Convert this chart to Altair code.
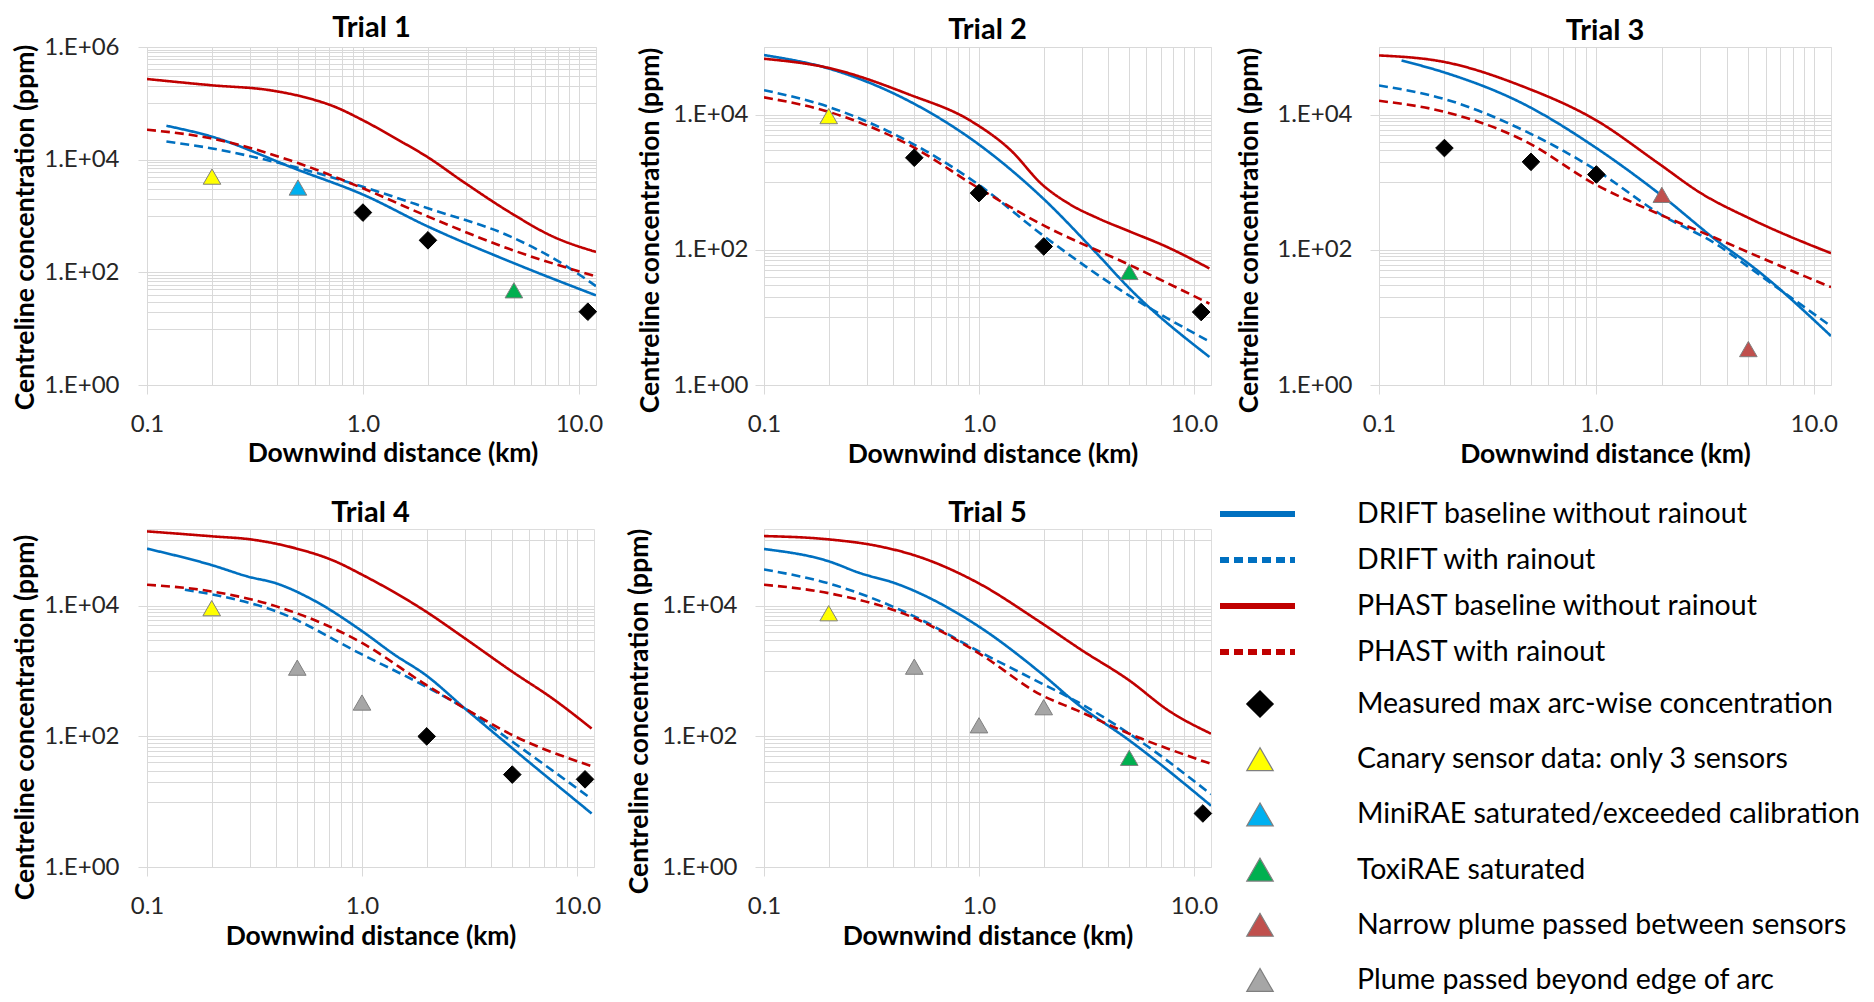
import altair as alt
import pandas as pd

FONT = "Lato"

SERIES = ["DRIFT baseline without rainout", "DRIFT with rainout",
          "PHAST baseline without rainout", "PHAST with rainout"]
SERIES_COLORS = ["#0070C0", "#0070C0", "#C00000", "#C00000"]
MARKERS = ["Measured max arc-wise concentration", "Canary sensor data: only 3 sensors",
           "MiniRAE saturated/exceeded calibration", "ToxiRAE saturated",
           "Narrow plume passed between sensors", "Plume passed beyond edge of arc"]
MARKER_SHAPES = ["diamond", "triangle-up", "triangle-up", "triangle-up", "triangle-up", "triangle-up"]
MARKER_FILLS = ["#000000", "#FFFF00", "#00B0F0", "#00B050", "#C0504D", "#A6A6A6"]
MARKER_STROKES = ["#000000", "#7F7F7F", "#7F7F7F", "#7F7F7F", "#7F7F7F", "#7F7F7F"]

TITLES = ["Trial 1", "Trial 2", "Trial 3", "Trial 4", "Trial 5"]
X_LABEL = "Downwind distance (km)"
Y_LABEL = "Centreline concentration (ppm)"
Y_MAX = [1e6, 1e5, 1e5, 1.5e5, 1.5e5]

# ---------------- Trial 1 ----------------
T1_DRIFT_BASE_X = [0.123, 0.197, 0.5, 1.0, 2.0, 4.9, 12]
T1_DRIFT_BASE_Y = [4e4, 2.6e4, 6.6e3, 2.4e3, 650, 150, 39]
T1_DRIFT_RAIN_X = [0.123, 0.197, 0.41, 1.0, 2.0, 4.9, 8.2, 12]
T1_DRIFT_RAIN_Y = [2.1e4, 1.6e4, 8.7e3, 3.3e3, 1.37e3, 420, 150, 57]
T1_PHAST_BASE_X = [0.1, 0.197, 0.374, 0.53, 0.74, 1.0, 1.47, 2.0, 2.9, 4.9, 7.5, 12]
T1_PHAST_BASE_Y = [2.7e5, 2.1e5, 1.7e5, 1.3e5, 8.7e4, 5e4, 2.2e4, 1.1e4, 4.1e3, 1.1e3, 440, 230]
T1_PHAST_RAIN_X = [0.1, 0.197, 0.5, 1.0, 2.0, 4.9, 12]
T1_PHAST_RAIN_Y = [3.4e4, 2.4e4, 8.7e3, 3.1e3, 980, 250, 85]
T1_MEASURED_X = [1.0, 2.0, 11.0]
T1_MEASURED_Y = [1.15e3, 370, 20]
T1_CANARY_X = [0.2]
T1_CANARY_Y = [5e3]
T1_MINIRAE_X = [0.5]
T1_MINIRAE_Y = [3.2e3]
T1_TOXIRAE_X = [5.0]
T1_TOXIRAE_Y = [48]

# ---------------- Trial 2 ----------------
T2_DRIFT_BASE_X = [0.1, 0.2, 0.47, 1.0, 1.97, 3.57, 5.0, 11.8]
T2_DRIFT_BASE_Y = [7.6e4, 4.8e4, 1.6e4, 3.6e3, 590, 85, 27, 2.6]
T2_DRIFT_RAIN_X = [0.1, 0.2, 0.47, 1.0, 1.97, 5.0, 11.8]
T2_DRIFT_RAIN_Y = [2.3e4, 1.3e4, 4e3, 910, 166, 21, 4.4]
T2_PHAST_BASE_X = [0.1, 0.2, 0.47, 0.92, 1.4, 1.97, 2.65, 3.6, 5.0, 7.5, 11.8]
T2_PHAST_BASE_Y = [6.7e4, 4.9e4, 2e4, 8e3, 3.0e3, 920, 470, 290, 188, 110, 53]
T2_PHAST_RAIN_X = [0.1, 0.2, 0.47, 1.0, 1.97, 5.0, 11.8]
T2_PHAST_RAIN_Y = [1.8e4, 1.1e4, 3.6e3, 810, 235, 60, 16]
T2_MEASURED_X = [0.5, 1.0, 2.0, 10.8]
T2_MEASURED_Y = [2.3e3, 690, 112, 12]
T2_CANARY_X = [0.2]
T2_CANARY_Y = [9.5e3]
T2_TOXIRAE_X = [5.0]
T2_TOXIRAE_Y = [47]

# ---------------- Trial 3 ----------------
T3_DRIFT_BASE_X = [0.127, 0.2, 0.46, 1.0, 1.93, 3.7, 5.2, 12]
T3_DRIFT_BASE_Y = [6.3e4, 4.2e4, 1.45e4, 3.2e3, 690, 126, 57, 5.3]
T3_DRIFT_RAIN_X = [0.1, 0.2, 0.46, 1.0, 1.93, 3.7, 5.2, 12]
T3_DRIFT_RAIN_Y = [2.7e4, 1.7e4, 5.9e3, 1.5e3, 350, 112, 51, 7.4]
T3_PHAST_BASE_X = [0.1, 0.2, 0.46, 1.0, 1.93, 3.0, 5.2, 12]
T3_PHAST_BASE_Y = [7.5e4, 6e4, 2.6e4, 8.2e3, 1.9e3, 700, 280, 89]
T3_PHAST_RAIN_X = [0.1, 0.2, 0.46, 1.0, 1.93, 3.7, 5.2, 12]
T3_PHAST_RAIN_Y = [1.6e4, 1.1e4, 4.2e3, 910, 340, 140, 87, 28]
T3_MEASURED_X = [0.2, 0.5, 1.0]
T3_MEASURED_Y = [3.2e3, 2e3, 1.3e3]
T3_NARROW_X = [2.0, 5.0]
T3_NARROW_Y = [650, 3.4]

# ---------------- Trial 4 ----------------
T4_DRIFT_BASE_X = [0.1, 0.2, 0.295, 0.4, 0.6, 1.0, 1.41, 1.98, 3.0, 5.0, 11.7]
T4_DRIFT_BASE_Y = [7.5e4, 4.2e4, 2.8e4, 2.2e4, 1.2e4, 4.1e3, 1.8e3, 870, 270, 66, 6.6]
T4_DRIFT_RAIN_X = [0.15, 0.2, 0.4, 1.0, 1.98, 3.0, 5.0, 11.7]
T4_DRIFT_RAIN_Y = [1.76e4, 1.5e4, 8.2e3, 1.8e3, 580, 270, 83, 11]
T4_PHAST_BASE_X = [0.1, 0.2, 0.31, 0.49, 0.75, 1.0, 1.98, 3.0, 5.0, 7.7, 11.7]
T4_PHAST_BASE_Y = [1.38e5, 1.16e5, 1.03e5, 7.6e4, 4.8e4, 3e4, 8.2e3, 3.2e3, 980, 380, 132]
T4_PHAST_RAIN_X = [0.1, 0.2, 0.4, 1.0, 1.98, 3.0, 5.0, 11.7]
T4_PHAST_RAIN_Y = [2.1e4, 1.66e4, 9.8e3, 2.7e3, 620, 270, 105, 35]
T4_MEASURED_X = [2.0, 5.0, 10.9]
T4_MEASURED_Y = [100, 26, 22]
T4_CANARY_X = [0.2]
T4_CANARY_Y = [9.2e3]
T4_BEYOND_X = [0.5, 1.0]
T4_BEYOND_Y = [1.13e3, 330]

# ---------------- Trial 5 ----------------
T5_DRIFT_BASE_X = [0.1, 0.2, 0.277, 0.41, 1.0, 1.95, 2.86, 5.0, 12]
T5_DRIFT_BASE_Y = [7.4e4, 4.8e4, 3.2e4, 2.2e4, 4.8e3, 920, 316, 87, 8.7]
T5_DRIFT_RAIN_X = [0.1, 0.2, 0.5, 1.0, 1.95, 2.86, 5.0, 12]
T5_DRIFT_RAIN_Y = [3.6e4, 2.2e4, 6.9e3, 2e3, 650, 340, 110, 13]
T5_PHAST_BASE_X = [0.1, 0.2, 0.34, 0.52, 1.0, 1.87, 3.0, 5.0, 7.6, 12]
T5_PHAST_BASE_Y = [1.17e5, 1.04e5, 8.2e4, 5.7e4, 2.2e4, 6e3, 2.1e3, 720, 250, 110]
T5_PHAST_RAIN_X = [0.1, 0.2, 0.5, 1.0, 1.95, 2.86, 5.0, 12]
T5_PHAST_RAIN_Y = [2.1e4, 1.56e4, 6.5e3, 1.87e3, 430, 250, 110, 38]
T5_MEASURED_X = [11.0]
T5_MEASURED_Y = [6.6]
T5_CANARY_X = [0.2]
T5_CANARY_Y = [7.7e3]
T5_TOXIRAE_X = [5.0]
T5_TOXIRAE_Y = [47]
T5_BEYOND_X = [0.5, 1.0, 2.0]
T5_BEYOND_Y = [1.17e3, 148, 280]


# ------------------------------------------------------------------
def lines_df(parts):
    rows = []
    for name, xs, ys in parts:
        for i, (x, y) in enumerate(zip(xs, ys)):
            rows.append({"series": name, "x": x, "y": y, "i": i})
    return pd.DataFrame(rows)


def pts_df(parts):
    rows = []
    for name, xs, ys in parts:
        for x, y in zip(xs, ys):
            rows.append({"marker": name, "x": x, "y": y})
    return pd.DataFrame(rows)


LINES = [
    lines_df([(SERIES[0], T1_DRIFT_BASE_X, T1_DRIFT_BASE_Y), (SERIES[1], T1_DRIFT_RAIN_X, T1_DRIFT_RAIN_Y),
              (SERIES[2], T1_PHAST_BASE_X, T1_PHAST_BASE_Y), (SERIES[3], T1_PHAST_RAIN_X, T1_PHAST_RAIN_Y)]),
    lines_df([(SERIES[0], T2_DRIFT_BASE_X, T2_DRIFT_BASE_Y), (SERIES[1], T2_DRIFT_RAIN_X, T2_DRIFT_RAIN_Y),
              (SERIES[2], T2_PHAST_BASE_X, T2_PHAST_BASE_Y), (SERIES[3], T2_PHAST_RAIN_X, T2_PHAST_RAIN_Y)]),
    lines_df([(SERIES[0], T3_DRIFT_BASE_X, T3_DRIFT_BASE_Y), (SERIES[1], T3_DRIFT_RAIN_X, T3_DRIFT_RAIN_Y),
              (SERIES[2], T3_PHAST_BASE_X, T3_PHAST_BASE_Y), (SERIES[3], T3_PHAST_RAIN_X, T3_PHAST_RAIN_Y)]),
    lines_df([(SERIES[0], T4_DRIFT_BASE_X, T4_DRIFT_BASE_Y), (SERIES[1], T4_DRIFT_RAIN_X, T4_DRIFT_RAIN_Y),
              (SERIES[2], T4_PHAST_BASE_X, T4_PHAST_BASE_Y), (SERIES[3], T4_PHAST_RAIN_X, T4_PHAST_RAIN_Y)]),
    lines_df([(SERIES[0], T5_DRIFT_BASE_X, T5_DRIFT_BASE_Y), (SERIES[1], T5_DRIFT_RAIN_X, T5_DRIFT_RAIN_Y),
              (SERIES[2], T5_PHAST_BASE_X, T5_PHAST_BASE_Y), (SERIES[3], T5_PHAST_RAIN_X, T5_PHAST_RAIN_Y)]),
]

POINTS = [
    pts_df([(MARKERS[0], T1_MEASURED_X, T1_MEASURED_Y), (MARKERS[1], T1_CANARY_X, T1_CANARY_Y),
            (MARKERS[2], T1_MINIRAE_X, T1_MINIRAE_Y), (MARKERS[3], T1_TOXIRAE_X, T1_TOXIRAE_Y)]),
    pts_df([(MARKERS[0], T2_MEASURED_X, T2_MEASURED_Y), (MARKERS[1], T2_CANARY_X, T2_CANARY_Y),
            (MARKERS[3], T2_TOXIRAE_X, T2_TOXIRAE_Y)]),
    pts_df([(MARKERS[0], T3_MEASURED_X, T3_MEASURED_Y), (MARKERS[4], T3_NARROW_X, T3_NARROW_Y)]),
    pts_df([(MARKERS[0], T4_MEASURED_X, T4_MEASURED_Y), (MARKERS[1], T4_CANARY_X, T4_CANARY_Y),
            (MARKERS[5], T4_BEYOND_X, T4_BEYOND_Y)]),
    pts_df([(MARKERS[0], T5_MEASURED_X, T5_MEASURED_Y), (MARKERS[1], T5_CANARY_X, T5_CANARY_Y),
            (MARKERS[3], T5_TOXIRAE_X, T5_TOXIRAE_Y), (MARKERS[5], T5_BEYOND_X, T5_BEYOND_Y)]),
]

# axis gridline positions (Excel log axis: major unit 100, minor unit 10)
X_GRID = [round(k * 0.1, 1) for k in range(1, 10)] + list(range(1, 10)) + [10]


def y_grid(ymax):
    vals = []
    for e in range(0, 7):
        cands = [10 ** e] if e % 2 == 0 else [k * 10 ** e for k in range(1, 10)]
        vals += [v for v in cands if v <= ymax * 1.0001]
    return vals


LOG10 = "(log(datum.value)/LN10)"
Y_MAJOR = f"abs({LOG10} - 2*round({LOG10}/2)) < 0.001"
X_MAJOR = f"abs({LOG10} - round({LOG10})) < 0.001"
Y_LABEL_EXPR = f"({Y_MAJOR}) ? '1.E+' + (round({LOG10}) < 10 ? '0' : '') + round({LOG10}) : ''"
X_LABEL_EXPR = f"({X_MAJOR}) ? format(datum.value, '.1f') : ''"

GRID = "#D9D9D9"
LABEL_COLOR = "#262626"
TICK_FS = 24
AXIS_TITLE_FS = 26.5
PANEL_TITLE_FS = 29

LINE_COLOR = alt.Color("series:N", scale=alt.Scale(domain=SERIES, range=SERIES_COLORS), legend=None)
LINE_DASH = alt.StrokeDash("series:N", scale=alt.Scale(domain=SERIES, range=[[1, 0], [9, 5], [1, 0], [9, 5]]),
                           legend=None)
P_SHAPE = alt.Shape("marker:N", scale=alt.Scale(domain=MARKERS, range=MARKER_SHAPES), legend=None)
P_FILL = alt.Fill("marker:N", scale=alt.Scale(domain=MARKERS, range=MARKER_FILLS), legend=None)
P_STROKE = alt.Stroke("marker:N", scale=alt.Scale(domain=MARKERS, range=MARKER_STROKES), legend=None)


def panel(idx, width, height, ylab_pad, ytitle_x, ytitle_dy, xtitle_dx, xtitle_y, title_offset):
    ymax = Y_MAX[idx]
    xs = alt.Scale(type="log", domain=[0.1, 12], nice=False)
    ys = alt.Scale(type="log", domain=[1, ymax], nice=False)
    xaxis = alt.Axis(values=X_GRID, grid=True, gridColor=GRID, gridWidth=1, domain=False,
                     ticks=True, tickSize=9, tickColor=GRID,
                     tickOpacity={"condition": {"test": X_MAJOR, "value": 1}, "value": 0},
                     labelExpr=X_LABEL_EXPR, labelFont=FONT, labelFontSize=TICK_FS, labelColor=LABEL_COLOR,
                     labelBaseline="alphabetic", labelPadding=37, labelFlush=False, labelOverlap=False,
                     title=X_LABEL, titleFont=FONT, titleFontSize=AXIS_TITLE_FS, titleFontWeight="bold",
                     titleColor="#000000", titleBaseline="alphabetic",
                     titleX=width / 2 + xtitle_dx, titleY=xtitle_y)
    yaxis = alt.Axis(values=y_grid(ymax), grid=True, gridColor=GRID, gridWidth=1, domain=False,
                     ticks=True, tickSize=9, tickColor=GRID,
                     tickOpacity={"condition": {"test": Y_MAJOR, "value": 1}, "value": 0},
                     labelExpr=Y_LABEL_EXPR, labelFont=FONT, labelFontSize=TICK_FS, labelColor=LABEL_COLOR,
                     labelPadding=ylab_pad, labelFlush=False, labelOverlap=False,
                     title=Y_LABEL, titleFont=FONT, titleFontSize=AXIS_TITLE_FS, titleFontWeight="bold",
                     titleColor="#000000", titleBaseline="alphabetic",
                     titleX=ytitle_x + 9.5, titleY=height / 2 + ytitle_dy)
    lines = alt.Chart(LINES[idx]).mark_line(strokeWidth=2.6, interpolate="monotone", clip=True).encode(
        x=alt.X("x:Q", scale=xs, axis=xaxis), y=alt.Y("y:Q", scale=ys, axis=yaxis),
        color=LINE_COLOR, strokeDash=LINE_DASH, order="i:Q")
    pts = alt.Chart(POINTS[idx]).mark_point(filled=True, size=310, strokeWidth=1, opacity=1).encode(
        x=alt.X("x:Q", scale=xs), y=alt.Y("y:Q", scale=ys),
        shape=P_SHAPE, fill=P_FILL, stroke=P_STROKE)
    ttl = alt.Chart(pd.DataFrame({"t": [TITLES[idx]]})).mark_text(
        font=FONT, fontSize=PANEL_TITLE_FS, fontWeight="bold", color="#000000",
        align="center", baseline="alphabetic").encode(
        text="t:N", x=alt.value(width / 2), y=alt.value(-title_offset))
    return alt.layer(lines, pts, ttl).properties(width=width, height=height)


p1 = panel(0, 449, 338, 19, -123, 11, 21, 76, 10)
p2 = panel(1, 447, 338, 7, -115, 14, 5, 77, 8)
p3 = panel(2, 452, 338, 18, -131, 14, 0, 77, 7)
p4 = panel(3, 447, 338, 19, -123, 19, 0, 77, 7)
p5 = panel(4, 447, 338, 18, -126, 13, 0, 77, 7)

# ---------------- legend ----------------
leg_lines = pd.DataFrame({"label": SERIES})
leg_marks = pd.DataFrame({"label": MARKERS})
LX0 = -159
line_rows = alt.Y("label:N", sort=SERIES,
                  scale=alt.Scale(type="point", domain=SERIES, range=[-15, 123], padding=0), axis=None)
line_text_rows = alt.Y("label:N", sort=SERIES,
                       scale=alt.Scale(type="point", domain=SERIES, range=[-20, 118], padding=0), axis=None)
mark_rows = alt.Y("label:N", sort=MARKERS,
                  scale=alt.Scale(type="point", domain=MARKERS, range=[175, 451], padding=0), axis=None)

leg1 = alt.Chart(leg_lines).mark_rule(strokeWidth=6).encode(
    x=alt.value(LX0), x2=alt.value(LX0 + 75), y=line_rows,
    color=alt.Color("label:N", scale=alt.Scale(domain=SERIES, range=SERIES_COLORS), legend=None),
    strokeDash=alt.StrokeDash("label:N", scale=alt.Scale(domain=SERIES, range=[[1, 0], [20, 7], [1, 0], [20, 7]]),
                              legend=None))
leg1t = alt.Chart(leg_lines).mark_text(align="left", baseline="middle", font=FONT, fontSize=28.5,
                                       color="#000000").encode(
    x=alt.value(LX0 + 137), y=line_text_rows, text="label:N")
leg2 = alt.Chart(leg_marks).mark_point(filled=True, size=700, strokeWidth=1.2, opacity=1).encode(
    x=alt.value(LX0 + 40), y=mark_rows,
    shape=alt.Shape("label:N", scale=alt.Scale(domain=MARKERS, range=MARKER_SHAPES), legend=None),
    fill=alt.Fill("label:N", scale=alt.Scale(domain=MARKERS, range=MARKER_FILLS), legend=None),
    stroke=alt.Stroke("label:N", scale=alt.Scale(domain=MARKERS, range=MARKER_STROKES), legend=None))
leg2t = alt.Chart(leg_marks).mark_text(align="left", baseline="middle", font=FONT, fontSize=28.5,
                                       color="#000000").encode(
    x=alt.value(LX0 + 137), y=mark_rows, text="label:N")
legend = alt.layer(alt.layer(leg1, leg1t), alt.layer(leg2, leg2t)).resolve_scale(y="independent").properties(
    width=440, height=338, view=alt.ViewBackground(stroke="transparent"))

chart = alt.concat(p1, p2, p3, p4, p5, legend, columns=3, bounds="flush",
                   spacing={"row": 144, "column": 168}).properties(
    padding={"left": 3, "top": 5, "right": 0, "bottom": 0}
).configure_view(stroke=GRID, strokeWidth=1).configure(background="white")

chart.save("out.html", embed_options={"renderer": "svg", "actions": False})
